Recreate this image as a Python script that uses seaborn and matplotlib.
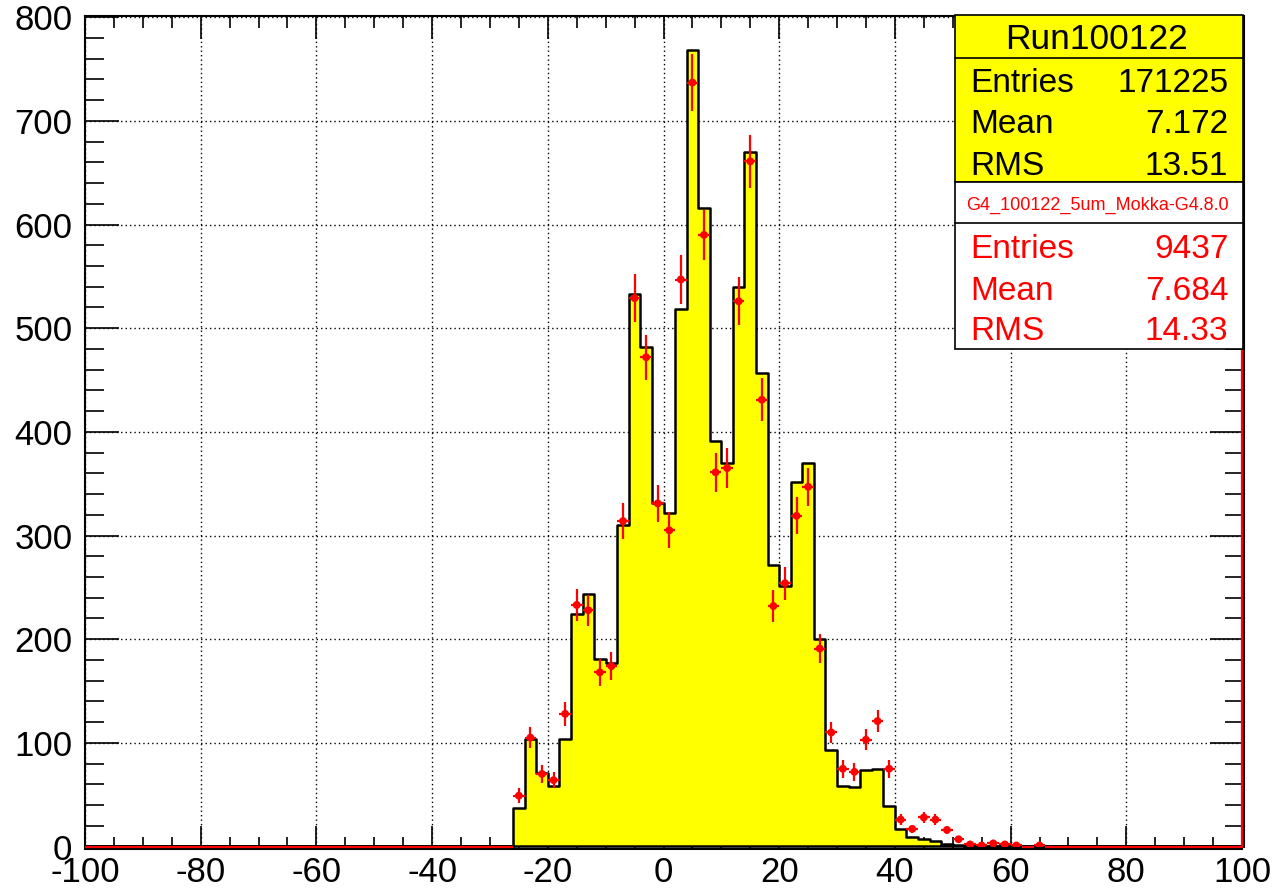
import numpy as np
import pandas as pd
import matplotlib
matplotlib.use("Agg")
import matplotlib.pyplot as plt
from matplotlib.patches import Rectangle
from matplotlib.lines import Line2D
from matplotlib.ticker import MultipleLocator
import seaborn as sns

# ---------------- data ----------------
bin_edges = np.arange(-100, 101, 2)          # 100 bins of width 2
first_filled_edge = -26                      # first non-empty bin starts here

# yellow (data, Run100122) bin contents from -26 upward
data_vals = [37.5, 104, 71, 58, 104, 224, 244, 181, 177, 310,
             533, 482, 331, 322, 519, 768, 616, 391, 370, 540,
             670, 457, 272, 251, 352, 370, 200, 93, 58, 57,
             73.5, 75, 39, 16.5, 9.4, 7.4, 5, 2, 1, 0.3]

# red (simulation, G4 Mokka) bin contents from -26 upward
mc_vals = [49, 105, 70, 64, 128, 233, 228, 168, 174, 314,
           529, 472, 331, 305, 547, 737, 590, 361, 365, 526,
           661, 431, 232, 254, 319, 347, 191, 110, 75, 72,
           103, 121, 75, 26, 17, 28, 26, 16, 7, 2,
           1, 3, 2, 1, 0, 1]

data_title = "Run100122"
data_stats = [("Entries", "171225"), ("Mean", "7.172"), ("RMS", "13.51")]
mc_title = "G4_100122_5um_Mokka-G4.8.0"
mc_stats = [("Entries", "9437"), ("Mean", "7.684"), ("RMS", "14.33")]

x_range = (-100, 100)
y_range = (0, 801.5)

# ---------------- derived arrays ----------------
centers = (bin_edges[:-1] + bin_edges[1:]) / 2
half_width = np.diff(bin_edges) / 2
start = int((first_filled_edge - bin_edges[0]) / 2)
data_counts = np.zeros(len(centers))
data_counts[start:start + len(data_vals)] = data_vals
mc_counts = np.zeros(len(centers))
mc_counts[start:start + len(mc_vals)] = mc_vals

# ---------------- style ----------------
sns.set_theme(style="white")
plt.rcParams['font.family'] = ['Liberation Sans', 'DejaVu Sans']
plt.rcParams['axes.unicode_minus'] = False

W, H = 1278, 889
fig = plt.figure(figsize=(W / 100, H / 100), dpi=100)
fig.patch.set_facecolor("white")

ax_l, ax_r, ax_t, ax_b = 85, 1242, 15.7, 846.5
ax = fig.add_axes([ax_l / W, 1 - ax_b / H, (ax_r - ax_l) / W, (ax_b - ax_t) / H])
ax.set_facecolor("white")
ax.set_axisbelow(True)
ax.grid(True, which='major', color='black', linestyle=(0, (1, 2.2)), linewidth=1.0)

df = pd.DataFrame({"x": centers, "w": data_counts})
sns.histplot(data=df, x="x", weights="w", bins=[float(b) for b in bin_edges],
             element="step", fill=True, color="#ffff00", alpha=1,
             edgecolor="black", linewidth=1.8, ax=ax, zorder=2)

eb = ax.errorbar(centers, mc_counts, xerr=half_width, yerr=np.sqrt(mc_counts),
                 fmt='none', ecolor='#ff0000', elinewidth=1.6, capsize=0, zorder=4)
for coll in eb.lines[2]:
    coll.set_clip_on(False)
nz = mc_counts > 0
sns.scatterplot(x=centers[nz], y=mc_counts[nz], color='#ff0000', s=32,
                marker='o', edgecolor='none', linewidth=0, ax=ax, zorder=5)
vline = ax.axvline(bin_edges[-1], color='#ff0000', lw=1.6, zorder=3)
vline.set_clip_on(False)

ax.set_xlim(*x_range)
ax.set_ylim(*y_range)
ax.set_xlabel("")
ax.set_ylabel("")

ax.xaxis.set_major_locator(MultipleLocator(20))
ax.xaxis.set_minor_locator(MultipleLocator(5))
ax.yaxis.set_major_locator(MultipleLocator(100))
ax.yaxis.set_minor_locator(MultipleLocator(20))

ax.tick_params(axis='x', which='both', direction='in', top=True, bottom=True,
               width=1.2, color='black')
ax.tick_params(axis='x', which='major', length=16.5, labelsize=25, pad=5,
               labelcolor='black')
ax.tick_params(axis='x', which='minor', length=8.6)
ax.tick_params(axis='y', which='both', direction='in', left=True, right=True,
               width=1.2, color='black')
ax.tick_params(axis='y', which='major', length=24.5, labelsize=25, pad=9,
               labelcolor='black')
ax.tick_params(axis='y', which='minor', length=13.7)

for s in ax.spines.values():
    s.set_visible(True)
    s.set_color('black')
    s.set_linewidth(1.5)
ax.spines['bottom'].set_position(('outward', 1.6))
ax.spines['right'].set_position(('outward', 1.6))

# ---------------- stat boxes ----------------
def fx(px):
    return px / W

def fy(py):
    return 1 - py / H

box_l, box_r = 955, 1243.3
def add_box(top, bottom, face):
    fig.add_artist(Rectangle((fx(box_l), fy(bottom)), fx(box_r) - fx(box_l),
                             fy(top) - fy(bottom), transform=fig.transFigure,
                             facecolor=face, edgecolor='black', linewidth=1.2,
                             zorder=10))

def add_hline(py):
    fig.add_artist(Line2D([fx(box_l), fx(box_r)], [fy(py), fy(py)],
                          transform=fig.transFigure, color='black',
                          linewidth=1.2, zorder=11))

add_box(15, 181.7, '#ffff00')
add_hline(57.7)
add_box(181.7, 349.3, 'white')
add_hline(223.3)

fs = 24
fig.text(fx(1097), fy(49.3), data_title, ha='center', va='baseline',
         fontsize=25.5, color='black', zorder=12)
for (lab, val), base in zip(data_stats, [91.7, 133.3, 175]):
    fig.text(fx(970), fy(base), lab, ha='left', va='baseline', fontsize=fs,
             color='black', zorder=12)
    fig.text(fx(1228.3), fy(base), val, ha='right', va='baseline', fontsize=fs,
             color='black', zorder=12)

fig.text(fx(1097), fy(210), mc_title, ha='center', va='baseline',
         fontsize=13, color='#ff0000', zorder=12)
for (lab, val), base in zip(mc_stats, [258.3, 300, 340]):
    fig.text(fx(970), fy(base), lab, ha='left', va='baseline', fontsize=fs,
             color='#ff0000', zorder=12)
    fig.text(fx(1228.3), fy(base), val, ha='right', va='baseline', fontsize=fs,
             color='#ff0000', zorder=12)

fig.savefig("out.png", dpi=100)
